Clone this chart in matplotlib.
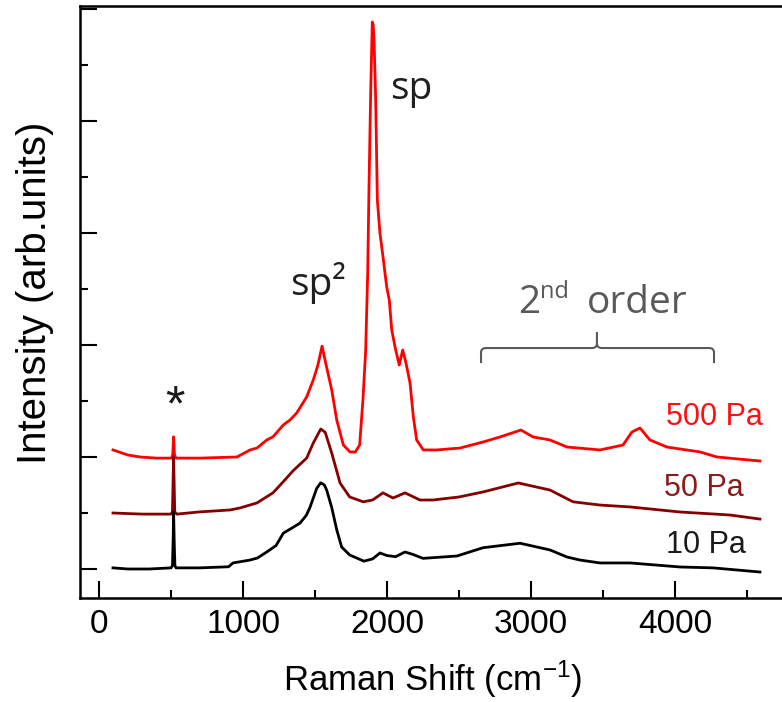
import numpy as np
import matplotlib
matplotlib.use("Agg")
import matplotlib.pyplot as plt
from matplotlib.path import Path
from matplotlib.patches import PathPatch
from matplotlib.ticker import MultipleLocator

plt.rcParams['font.family'] = ['Liberation Sans', 'DejaVu Sans']
plt.rcParams['mathtext.fontset'] = 'custom'
plt.rcParams['mathtext.rm'] = 'Liberation Sans'
plt.rcParams['mathtext.it'] = 'Liberation Sans:italic'

# ---- spectra (offset already included) ----
shift_10 = [97, 200, 350, 500, 510, 515, 518, 522, 527, 535, 700, 900, 930, 1049, 1100,
            1165, 1230, 1280, 1340, 1396, 1440, 1465, 1512, 1540, 1565, 1581, 1616, 1651,
            1685, 1741, 1840, 1900, 1951, 2000, 2060, 2125, 2180, 2250, 2486, 2667, 2924,
            3132, 3250, 3340, 3479, 3688, 4035, 4264, 4590]
int_10 = [0.01, 0.0, 0.0, 0.01, 0.03, 0.26, 0.51, 0.26, 0.03, 0.01, 0.01, 0.02, 0.054, 0.08, 0.098,
          0.152, 0.21, 0.32, 0.366, 0.41, 0.48, 0.55, 0.72, 0.77, 0.75, 0.705, 0.55, 0.35,
          0.196, 0.125, 0.07, 0.09, 0.143, 0.12, 0.11, 0.152, 0.13, 0.095, 0.116, 0.19, 0.23,
          0.17, 0.107, 0.08, 0.054, 0.054, 0.018, 0.01, -0.027]

shift_50 = [97, 300, 500, 510, 518, 526, 540, 700, 910, 979, 1097, 1208, 1280, 1350, 1442,
            1488, 1540, 1571, 1616, 1674, 1741, 1835, 1900, 1972, 2042, 2125, 2229, 2319,
            2500, 2667, 2912, 3132, 3292, 3479, 3688, 4035, 4382, 4590]
int_50 = [0.5, 0.49, 0.49, 0.51, 1.0, 0.51, 0.49, 0.51, 0.527, 0.545, 0.59, 0.68, 0.78, 0.88, 0.99,
          1.125, 1.25, 1.22, 1.036, 0.768, 0.643, 0.6, 0.616, 0.68, 0.634, 0.68, 0.616, 0.616,
          0.643, 0.688, 0.768, 0.705, 0.6, 0.571, 0.554, 0.509, 0.482, 0.446]

shift_500 = [97, 200, 285, 400, 505, 512, 518, 524, 535, 700, 958, 1049, 1097, 1165, 1208,
             1280, 1326, 1373, 1442, 1488, 1520, 1549, 1581, 1616, 1651, 1697, 1743, 1780,
             1810, 1833, 1852, 1866, 1875, 1887, 1898, 1904, 1910, 1921, 1933, 1951, 1975,
             1998, 2016, 2033, 2056, 2085, 2109, 2132, 2160, 2183, 2206, 2252, 2345, 2507,
             2667, 2785, 2930, 3014, 3132, 3250, 3479, 3639, 3701, 3757, 3826, 3944, 4174,
             4292, 4590]
int_500 = [1.063, 1.018, 1.0, 0.99, 0.99, 1.02, 1.18, 1.02, 0.99, 0.99, 1.0, 1.063, 1.08, 1.152, 1.18,
           1.286, 1.33, 1.393, 1.536, 1.688, 1.82, 1.99, 1.80, 1.60, 1.33, 1.107, 1.045, 1.045,
           1.107, 1.51, 1.955, 2.643, 3.41, 4.277, 4.884, 4.86, 4.723, 4.214, 3.295, 3.0, 2.759,
           2.518, 2.402, 2.134, 1.982, 1.821, 1.955, 1.839, 1.661, 1.357, 1.152, 1.063, 1.063, 1.08,
           1.134, 1.179, 1.241, 1.179, 1.152, 1.089, 1.063, 1.107, 1.223, 1.259, 1.152, 1.089, 1.045,
           1.0, 0.964]

series = [("500 Pa", shift_500, int_500, "#ff0000", "#ff1010", 3938, 1.286),
          ("50 Pa", shift_50, int_50, "#840000", "#8b1a1a", 3924, 0.652),
          ("10 Pa", shift_10, int_10, "#000000", "#1a1a1a", 3938, 0.143)]

fig = plt.figure(figsize=(7.82, 7.02), dpi=100)
ax = fig.add_axes([80 / 782, 104 / 702, 705 / 782, 592 / 702])

for name, xs, ys, col, tcol, tx, ty in series:
    ax.plot(xs, ys, color=col, lw=2.0)
    ax.text(tx, ty, name, color=tcol, fontsize=22, ha='left', va='baseline')

ax.set_xlim(-132, 4764)
ax.set_ylim(-0.259, 5.027)

ax.xaxis.set_major_locator(MultipleLocator(1000))
ax.xaxis.set_minor_locator(MultipleLocator(500))
ax.yaxis.set_major_locator(MultipleLocator(1))
ax.yaxis.set_minor_locator(MultipleLocator(0.5))
ax.tick_params(which='both', direction='in', width=1.5, top=False, right=False)
ax.tick_params(which='major', length=12)
ax.tick_params(which='minor', length=6)
ax.tick_params(axis='x', labelsize=24, pad=8)
ax.set_yticklabels([])
for sp in ax.spines.values():
    sp.set_linewidth(1.8)

ax.set_xlabel("Raman Shift (cm$^{-1}$)", fontsize=25)
ax.xaxis.set_label_coords(0.5, -0.102)
ax.set_ylabel("Intensity (arb.units)", fontsize=29)
ax.yaxis.set_label_coords(-0.037, 0.515)

# peak annotations
ann = dict(family=['Open Sans', 'DejaVu Sans'], fontsize=28, va='baseline', ha='left')
ax.text(2021, 4.196, "sp", color='#1f1f1f', **ann)
ax.text(1326, 2.446, "sp\u00b2", color='#1f1f1f', **ann)
ax.text(2910, 2.286, "2", color='#595959', **ann)
ax.text(3062, 2.42, "nd", color='#595959', family=['Open Sans', 'DejaVu Sans'],
        fontsize=17, va='baseline', ha='left')
ax.text(3389, 2.286, "order", color='#595959', **ann)
ax.text(528, 1.44, "*", fontsize=36, ha='center', va='center', color='#1a1a1a')

# brace under "2nd order"
L, M, R = 2653, 3458, 4271
yl, ye, yt = 1.973, 1.839, 2.116
rx, ry = 35, 0.04
verts = [(L, ye), (L, yl - ry), (L, yl), (L + rx, yl), (M - rx, yl), (M, yl), (M, yl + ry),
         (M, yt), (M, yl + ry), (M, yl), (M + rx, yl), (R - rx, yl), (R, yl), (R, yl - ry), (R, ye)]
codes = [Path.MOVETO, Path.LINETO, Path.CURVE3, Path.CURVE3, Path.LINETO, Path.CURVE3, Path.CURVE3,
         Path.LINETO, Path.MOVETO, Path.CURVE3, Path.CURVE3, Path.LINETO, Path.CURVE3, Path.CURVE3,
         Path.LINETO]
ax.add_patch(PathPatch(Path(verts, codes), fill=False, edgecolor='#595959', lw=1.5))

fig.savefig("out.png", dpi=100)
